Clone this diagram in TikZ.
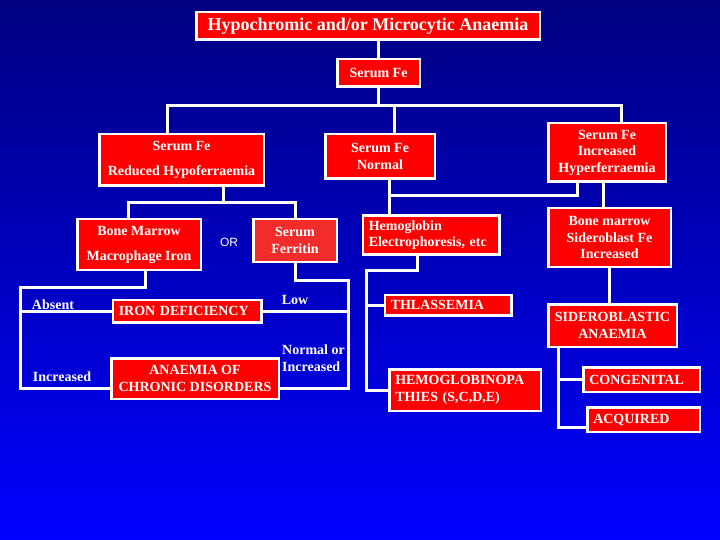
\documentclass[tikz,border=0pt]{standalone}
\usepackage{fontspec}
\setmainfont{Liberation Serif}
\setsansfont{Liberation Sans}
\usetikzlibrary{positioning}
\definecolor{cBgTop}{HTML}{000080}
\definecolor{cBgBot}{HTML}{0000FF}
\definecolor{cRed}{HTML}{FF0000}
\definecolor{cRedL}{HTML}{F22B2B}
\begin{document}
\begin{tikzpicture}[x=1pt,y=-1pt,
  box/.style={draw=white,line width=2.5pt,fill=cRed,text=white,align=center,inner sep=2pt,
    font=\bfseries\fontsize{14}{16.5}\selectfont},
  lbox/.style={box,align=left,inner xsep=6pt},
  tag/.style={text=white,font=\bfseries\fontsize{14}{16.5}\selectfont,align=center,inner sep=0pt},
  lnk/.style={draw=white,line width=3pt}]
  \shade[top color=cBgTop,bottom color=cBgBot] (0,0) rectangle (720,540);
  \useasboundingbox (0,0) rectangle (720,540);
  % top of the tree
  \node[box,minimum width=343.5,minimum height=27.5,font=\bfseries\fontsize{18}{20}\selectfont] (tit) at (368,26)
    {Hypochromic and/or Microcytic Anaemia};
  \node[box,minimum width=82.5,minimum height=27.5] (sfe) at (378.5,73) {Serum Fe};
  % serum Fe levels
  \node[box,minimum width=164.5,minimum height=51.5,font=\bfseries\fontsize{14}{25}\selectfont] (red) at (181.5,160)
    {Serum Fe\\Reduced Hypoferraemia};
  \node[box,minimum width=109.5,minimum height=44.5] (nor) at (380,156.5) {Serum Fe\\Normal};
  \node[box,minimum width=117.5,minimum height=58.5] (inc) at (607,152.5) {Serum Fe\\Increased\\Hyperferraemia};
  % tests
  \node[box,minimum width=123.5,minimum height=50.5,font=\bfseries\fontsize{14}{25}\selectfont] (bm) at (139,244.5)
    {Bone Marrow\\Macrophage Iron};
  \node[text=white,font=\sffamily\fontsize{12}{14}\selectfont,inner sep=0pt] (or) at (229,242) {OR};
  \node[box,fill=cRedL,minimum width=83.5,minimum height=42.5] (fer) at (295,240.5) {Serum\\Ferritin};
  \node[lbox,text width=124.5,minimum height=38.5] (hb) at (431,235) {Hemoglobin\\Electrophoresis, etc};
  \node[box,minimum width=122.5,minimum height=58.5] (sid) at (609.5,237.5) {Bone marrow\\Sideroblast Fe\\Increased};
  % diagnoses
  \node[lbox,text width=136.5,minimum height=22.5] (irn) at (187,311) {IRON DEFICIENCY};
  \node[box,minimum width=167.5,minimum height=40.5] (acd) at (195,378.5) {ANAEMIA OF\\CHRONIC DISORDERS};
  \node[lbox,text width=114.5,minimum height=20.5] (tha) at (448,305) {THLASSEMIA};
  \node[lbox,text width=139.5,minimum height=41.5] (hbp) at (465,390) {HEMOGLOBINOPA\\THIES (S,C,D,E)};
  \node[box,minimum width=128.5,minimum height=42.5] (sa) at (612.5,325.5) {SIDEROBLASTIC\\ANAEMIA};
  \node[lbox,text width=104.5,minimum height=24.5] (con) at (641.5,379.5) {CONGENITAL};
  \node[lbox,text width=100.5,minimum height=24.5] (acq) at (643.5,419.5) {ACQUIRED};
  % findings
  \node[tag] (absent) at (53,305) {Absent};
  \node[tag] (incr) at (62,377) {Increased};
  \node[tag] (low) at (295,300) {Low};
  \node[tag,align=left,anchor=west] (norinc) at (282,358) {Normal or\\Increased};
  % bend points
  \coordinate (busL) at (167,106);
  \coordinate (busM) at (394,106);
  \coordinate (busR) at (621,106);
  \coordinate (rdJ) at (223,203);
  \coordinate (rdL) at (128,203);
  \coordinate (bmJ) at (145,287);
  \coordinate (bmB) at (20,388);
  \coordinate (frJ) at (348,280);
  \coordinate (frB) at (348,388);
  \coordinate (nmJ) at (389,196);
  \coordinate (icJ) at (577,196);
  \coordinate (icK) at (603,195);
  \coordinate (hbJ) at (417,270);
  \coordinate (hbL) at (366,270);
  \coordinate (saB) at (558,427);
  % connectors
  \draw[lnk] (sfe.north |- tit.south) -- (sfe.north);
  \draw[lnk] (sfe.south) -- (sfe.south |- busM);
  \draw[lnk] (red.north -| busL) -- (busL) -- (busR) -- (inc.north -| busR);
  \draw[lnk] (busM) -- (nor.north -| busM);
  \draw[lnk] (rdJ |- red.south) -- (rdJ);
  \draw[lnk] (bm.north -| rdL) -- (rdL) -- (rdL -| fer.north) -- (fer.north);
  \draw[lnk] (bmJ |- bm.south) -- (bmJ) -- (bmJ -| bmB) -- (bmB) -- (bmB -| acd.west);
  \draw[lnk] (bmB |- irn.west) -- (irn.west);
  \draw[lnk] (fer.south) -- (fer.south |- frJ) -- (frJ) -- (frB) -- (frB -| acd.east);
  \draw[lnk] (frB |- irn.east) -- (irn.east);
  \draw[lnk] (nmJ |- nor.south) -- (nmJ |- hb.north);
  \draw[lnk] (nmJ) -- (icJ) -- (icJ |- inc.south);
  \draw[lnk] (hbJ |- hb.south) -- (hbJ) -- (hbL) -- (hbL |- hbp.west) -- (hbp.west);
  \draw[lnk] (hbL |- tha.west) -- (tha.west);
  \draw[lnk] (icK |- inc.south) -- (icK |- sid.north);
  \draw[lnk] (sid.south) -- (sid.south |- sa.north);
  \draw[lnk] (saB |- sa.south) -- (saB) -- (saB -| acq.west);
  \draw[lnk] (saB |- con.west) -- (con.west);
\end{tikzpicture}
\end{document}
